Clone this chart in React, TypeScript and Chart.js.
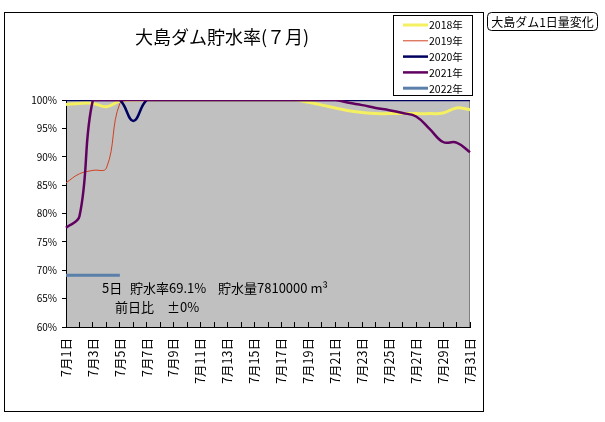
import React, { useEffect, useRef } from 'react';
import { Chart, registerables } from 'chart.js';

Chart.register(...registerables);

const days = [
  '7月1日', '7月2日', '7月3日', '7月4日', '7月5日', '7月6日', '7月7日', '7月8日',
  '7月9日', '7月10日', '7月11日', '7月12日', '7月13日', '7月14日', '7月15日', '7月16日',
  '7月17日', '7月18日', '7月19日', '7月20日', '7月21日', '7月22日', '7月23日', '7月24日',
  '7月25日', '7月26日', '7月27日', '7月28日', '7月29日', '7月30日', '7月31日',
];

const rate2018 = [99.2, 99.4, 99.4, 98.8, 99.8, 100, 100, 100, 100, 100, 100, 100, 100, 100, 100, 100, 100, 100, 99.6, 99.1, 98.6, 98.1, 97.8, 97.6, 97.6, 97.6, 97.6, 97.6, 97.7, 98.6, 98.3];
const rate2019 = [85.4, 87.0, 87.6, 88.0, 99.4, 100, 100, 100, 100, 100, 100, 100, 100, 100, 100, 100, 100, 100, 100, 100, 100, 100, 100, 100, 100, 100, 100, 100, 100, 100, 100];
const rate2020 = [100, 100, 100, 100, 100, 96.3, 100, 100, 100, 100, 100, 100, 100, 100, 100, 100, 100, 100, 100, 100, 100, 100, 100, 100, 100, 100, 100, 100, 100, 100, 100];
const rate2021 = [77.5, 79.5, 100, 100, 100, 100, 100, 100, 100, 100, 100, 100, 100, 100, 100, 100, 100, 100, 100, 100, 100, 99.5, 99.1, 98.6, 98.2, 97.7, 97.1, 94.9, 92.6, 92.5, 90.8];
const rate2022 = [69.1, 69.1, 69.1, 69.1, 69.1];

const seriesLabels = ['2018年', '2019年', '2020年', '2021年', '2022年'];
const seriesColors = ['#f4f060', '#d04020', '#000060', '#600060', '#5a7fa8'];
const seriesWidths = [3, 1, 2.5, 2.5, 3];

const titleText = '大島ダム貯水率(７月)';
const sideButtonText = '大島ダム1日量変化';
const latestDay = 5;
const latestRate = 69.1;
const latestVolume = 7810000;
const latestChange = '±0%';

const FONT = "'Noto Sans CJK JP', 'Noto Sans', sans-serif";

export default function App() {
  const ref = useRef<HTMLCanvasElement | null>(null);

  useEffect(() => {
    const canvas = ref.current;
    if (!canvas) return;
    const allData = [rate2018, rate2019, rate2020, rate2021, rate2022];

    const decor = {
      id: 'decor',
      beforeDraw(chart: any) {
        const { ctx, chartArea: a } = chart;
        ctx.save();
        ctx.fillStyle = '#ffffff';
        ctx.fillRect(0, 0, chart.width, chart.height);
        ctx.strokeStyle = '#000';
        ctx.lineWidth = 1;
        ctx.strokeRect(4.5, 12.5, 479, 399);
        ctx.fillStyle = '#c0c0c0';
        ctx.fillRect(a.left, a.top, a.right - a.left, a.bottom - a.top);
        ctx.strokeStyle = '#808080';
        ctx.beginPath();
        ctx.moveTo(a.right - 0.5, a.top);
        ctx.lineTo(a.right - 0.5, a.bottom);
        ctx.moveTo(a.left, a.top + 0.5);
        ctx.lineTo(a.right, a.top + 0.5);
        ctx.stroke();
        ctx.restore();
      },
      afterDraw(chart: any) {
        const { ctx } = chart;
        ctx.save();
        // title
        ctx.fillStyle = '#000';
        ctx.font = `18px ${FONT}`;
        ctx.textAlign = 'center';
        ctx.textBaseline = 'middle';
        ctx.fillText(titleText, 222, 37);

        // legend
        ctx.fillStyle = '#fff';
        ctx.fillRect(393.5, 15.5, 79, 80);
        ctx.strokeStyle = '#000';
        ctx.lineWidth = 1;
        ctx.strokeRect(393.5, 15.5, 79, 80);
        ctx.font = `10.5px ${FONT}`;
        ctx.textAlign = 'left';
        chart.data.datasets.forEach((ds: any, i: number) => {
          const y = 25 + i * 15.8;
          ctx.strokeStyle = ds.borderColor;
          ctx.lineWidth = ds.borderWidth;
          ctx.beginPath();
          ctx.moveTo(403, y);
          ctx.lineTo(428, y);
          ctx.stroke();
          ctx.fillStyle = '#000';
          ctx.fillText(ds.label, 429, y + 0.5);
        });

        // annotation
        ctx.fillStyle = '#000';
        ctx.font = `13px ${FONT}`;
        ctx.textAlign = 'left';
        ctx.fillText(`${latestDay}日`, 102, 288);
        ctx.fillText(`貯水率${latestRate}%`, 130, 288);
        ctx.fillText(`貯水量${latestVolume} m³`, 218, 288);
        ctx.fillText('前日比', 115, 307);
        ctx.fillText(latestChange, 167, 307);

        // side button
        ctx.strokeStyle = '#000';
        ctx.lineWidth = 1;
        ctx.beginPath();
        (ctx as any).roundRect(487.5, 12.5, 110, 18, 4);
        ctx.stroke();
        ctx.font = `12px ${FONT}`;
        ctx.textAlign = 'center';
        ctx.fillText(sideButtonText, 542.5, 22);
        ctx.restore();
      },
    };

    const chart = new Chart(canvas, {
      type: 'line',
      data: {
        labels: days,
        datasets: allData.map((d, i) => ({
          label: seriesLabels[i],
          data: d,
          borderColor: seriesColors[i],
          backgroundColor: seriesColors[i],
          borderWidth: seriesWidths[i],
          pointRadius: 0,
          tension: 0.4,
          fill: false,
          order: 4 - i,
        })),
      },
      options: {
        responsive: false,
        animation: false,
        events: [],
        layout: { padding: { left: 0, right: 135, top: 100, bottom: 0 } },
        plugins: {
          legend: { display: false },
          tooltip: { enabled: false },
          title: { display: false },
        },
        scales: {
          x: {
            type: 'category',
            offset: false,
            grid: { display: true, drawOnChartArea: false, drawTicks: true, tickLength: -5, color: '#000' },
            border: { color: '#000', width: 1 },
            ticks: {
              autoSkip: false,
              maxRotation: 90,
              minRotation: 90,
              padding: 16,
              color: '#000',
              font: { size: 12.5, family: FONT },
              callback: (_v: any, i: number) => (i % 2 === 0 ? days[i] : ''),
            },
            afterFit: (s: any) => { s.height = 95; },
          },
          y: {
            min: 60,
            max: 100,
            grid: { display: true, drawOnChartArea: false, drawTicks: true, tickLength: 4, color: '#000' },
            border: { color: '#000', width: 1 },
            ticks: {
              stepSize: 5,
              padding: 5,
              color: '#000',
              font: { size: 10, family: FONT },
              callback: (v: any) => `${v}%`,
            },
            afterFit: (s: any) => { s.width = 66; },
          },
        },
      },
      plugins: [decor],
    });
    return () => chart.destroy();
  }, []);

  return (
    <div style={{ position: 'absolute', left: 0, top: 0, width: 605, height: 422, background: '#fff' }}>
      <canvas ref={ref} width={605} height={422} />
    </div>
  );
}
